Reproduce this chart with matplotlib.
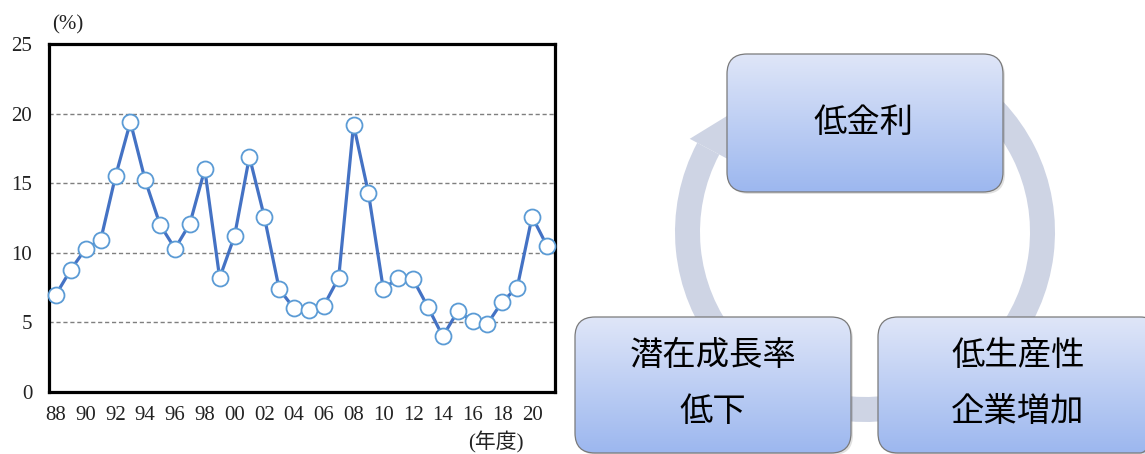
"""Line chart of yearly rate (%) plus the low-rate / low-growth cycle diagram."""

import matplotlib

matplotlib.use("Agg")
import matplotlib.pyplot as plt
import numpy as np
from matplotlib.patches import FancyBboxPatch, Polygon, Wedge

# ---- data -------------------------------------------------------------
years = list(range(1988, 2022))
values = [
    7.0, 8.8, 10.3, 10.9, 15.5, 19.4, 15.2, 12.0, 10.3, 12.1,
    16.0, 8.2, 11.2, 16.9, 12.6, 7.4, 6.0, 5.9, 6.2, 8.2,
    19.2, 14.3, 7.4, 8.2, 8.1, 6.1, 4.0, 5.8, 5.1, 4.9,
    6.5, 7.5, 12.6, 10.5,
]
tick_years = list(range(1988, 2021, 2))
tick_labels = [f"{y % 100:02d}" for y in tick_years]
y_ticks = [0, 5, 10, 15, 20, 25]

top_label = "低金利"
left_label = ["潜在成長率", "低下"]
right_label = ["低生産性", "企業増加"]

SERIF = ["Liberation Serif", "Noto Sans CJK JP"]
CJK = ["Noto Sans CJK JP", "DejaVu Sans"]
W, H = 1145, 454

fig = plt.figure(figsize=(W / 100, H / 100), dpi=100)

# ---- left: line chart -------------------------------------------------
ax = fig.add_axes([49 / W, 62 / H, 506 / W, 348 / H])
ax.plot(
    years, values, "-o",
    color="#4472C4", lw=2.3,
    markersize=11.5, markerfacecolor="white",
    markeredgecolor="#5B9BD5", markeredgewidth=1.3,
    clip_on=False, zorder=3,
)
ax.set_xlim(1987.53, 2021.54)
ax.set_ylim(0, 25)
ax.set_yticks(y_ticks)
ax.set_yticklabels([str(v) for v in y_ticks], family=SERIF, fontsize=15)
ax.set_xticks(tick_years)
ax.set_xticklabels(tick_labels, family=SERIF, fontsize=15)
ax.tick_params(axis="both", length=0, colors="#222222")
ax.tick_params(axis="y", pad=12)
ax.tick_params(axis="x", pad=10)
for v in y_ticks[1:-1]:
    ax.axhline(v, color="#7f7f7f", lw=1.0, ls=(0, (3, 2)), zorder=1)
for sp in ax.spines.values():
    sp.set_linewidth(2.3)
    sp.set_color("black")

fig.text(68 / W, 1 - 25 / H, "(%)", family=SERIF, fontsize=15,
         ha="center", va="center", color="#222222")
fig.text(496 / W, 1 - 442 / H, "(年度)", family=SERIF, fontsize=15,
         ha="center", va="center", color="#222222")

# ---- right: cycle diagram (pixel coordinates, y down) -----------------
dx0 = 560
dg = fig.add_axes([dx0 / W, 0, (W - dx0) / W, 1])
dg.set_xlim(dx0, W)
dg.set_ylim(H, 0)
dg.axis("off")

cx, cy, r_out, ring_w = 865, 232, 190, 25
ring_col = "#CED4E4"
# y axis is flipped, so angles here are mirrored: visual 152..420 deg
dg.add_patch(Wedge((cx, cy), r_out, -60, 208, width=ring_w,
                   facecolor=ring_col, edgecolor="none", zorder=1))

# arrow head at the upper-left end of the ring, pointing into the top box
r_mid = r_out - ring_w / 2


def pt(r, ang):
    a = np.deg2rad(ang)
    return (cx + r * np.cos(a), cy - r * np.sin(a))


head = [pt(r_mid + 21, 152), pt(r_mid - 21, 152), pt(r_mid, 137)]
dg.add_patch(Polygon(head, closed=True, facecolor=ring_col,
                     edgecolor="none", zorder=1))

grad = np.linspace(0, 1, 256)[:, None, None]
c_top = np.array([0.875, 0.902, 0.973])
c_bot = np.array([0.612, 0.718, 0.937])
grad_img = c_top * (1 - grad) + c_bot * grad


def box(x0, y0, x1, y1):
    shadow = FancyBboxPatch((x0 + 2, y0 + 2), x1 - x0, y1 - y0,
                            boxstyle="round,pad=0,rounding_size=20",
                            facecolor="#000000", alpha=0.12,
                            edgecolor="none", zorder=2)
    dg.add_patch(shadow)
    patch = FancyBboxPatch((x0, y0), x1 - x0, y1 - y0,
                           boxstyle="round,pad=0,rounding_size=20",
                           facecolor="none", edgecolor="#7a7a7a",
                           lw=0.9, zorder=4)
    dg.add_patch(patch)
    im = dg.imshow(grad_img, extent=(x0, x1, y1, y0), origin="upper",
                   aspect="auto", zorder=3, interpolation="bilinear")
    im.set_clip_path(patch)


box(727, 54, 1003, 192)
box(575, 317, 851, 453)
box(878, 317, 1160, 453)

dg.set_xlim(dx0, W)
dg.set_ylim(H, 0)

txt = dict(family=CJK, fontsize=24, ha="center", va="center",
           color="black", zorder=5)
dg.text(864, 122, top_label, **txt)
dg.text(713, 355, left_label[0], **txt)
dg.text(713, 412, left_label[1], **txt)
dg.text(1018, 355, right_label[0], **txt)
dg.text(1018, 412, right_label[1], **txt)

fig.savefig("out.png", dpi=100)
